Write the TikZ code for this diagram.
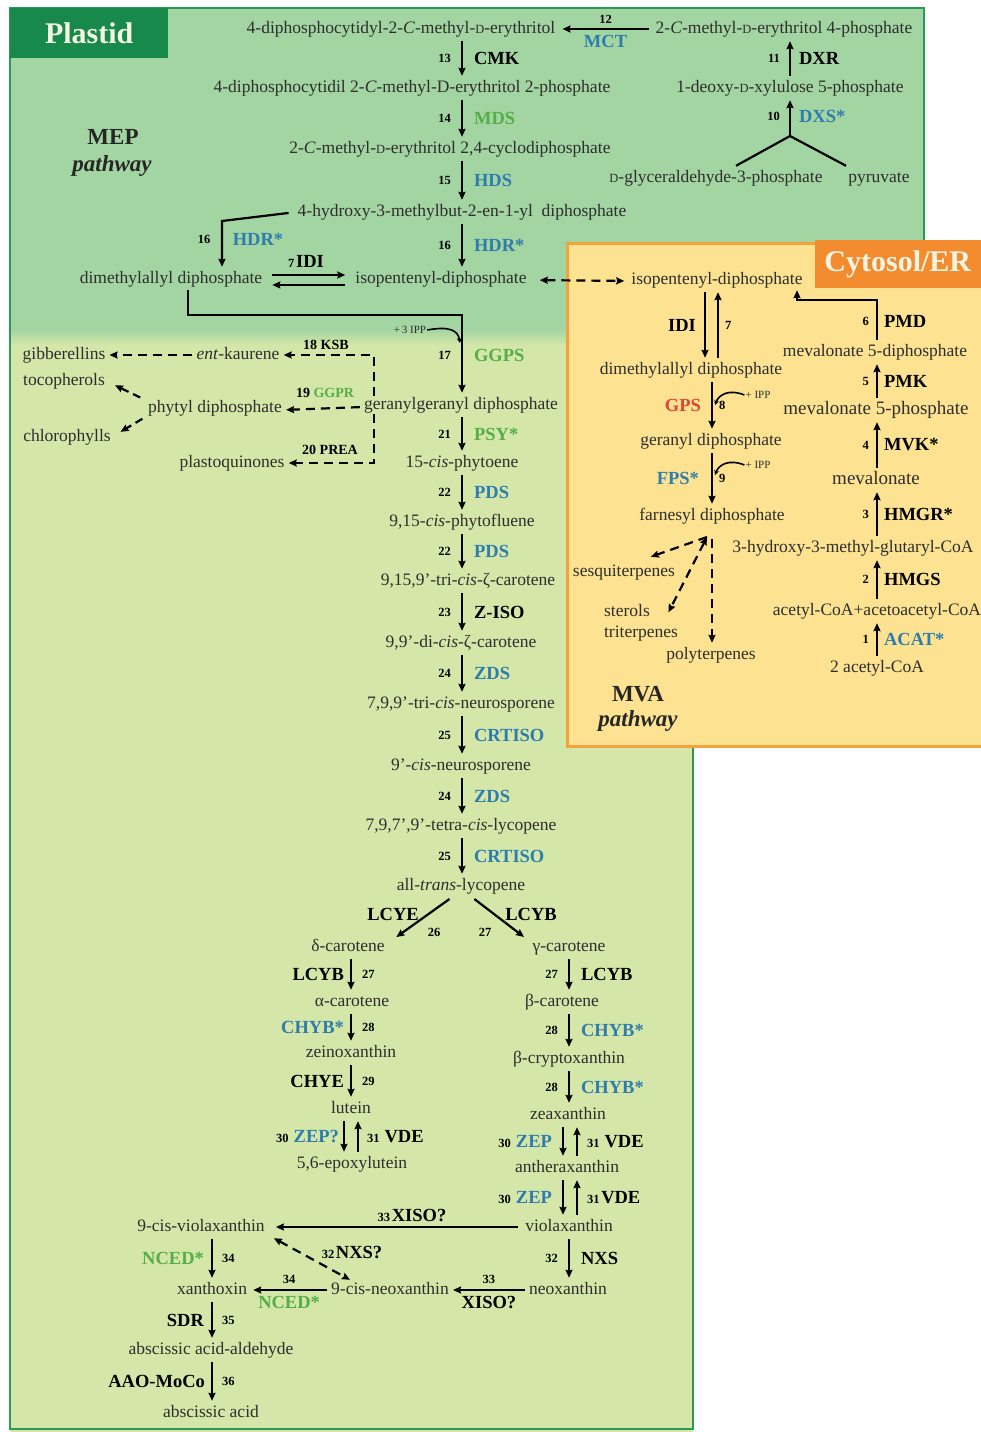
\documentclass[tikz,border=0pt]{standalone}
\usepackage{fontspec}
\setmainfont{Liberation Serif}
\usetikzlibrary{arrows.meta,calc}
\definecolor{upg}{HTML}{A3D5A2}
\definecolor{lowg}{HTML}{D4E7A8}
\definecolor{bordg}{HTML}{2A9A5B}
\definecolor{plab}{HTML}{17894B}
\definecolor{cytf}{HTML}{FDE391}
\definecolor{cytb}{HTML}{F3A33C}
\definecolor{clab}{HTML}{F28C2E}
\definecolor{ebl}{HTML}{2F7DAE}
\definecolor{egr}{HTML}{55AE48}
\definecolor{ere}{HTML}{DD4638}
\definecolor{tx}{HTML}{2E2E2E}
\definecolor{labt}{HTML}{F3F4E2}
\newcommand{\smD}{{\fontsize{12.5}{12.5}\selectfont D}}
\newcommand{\stp}[1]{{\bfseries\fontsize{12.5}{13}\selectfont #1}}
\newcommand{\stpb}[1]{{\bfseries\fontsize{14}{15}\selectfont #1}}
\newcommand{\enzK}[1]{{\bfseries\fontsize{18.5}{19}\selectfont #1}}
\newcommand{\enzB}[1]{{\bfseries\fontsize{18.5}{19}\selectfont\color{ebl}#1}}
\newcommand{\enzG}[1]{{\bfseries\fontsize{18.5}{19}\selectfont\color{egr}#1}}
\newcommand{\enzR}[1]{{\bfseries\fontsize{18.5}{19}\selectfont\color{ere}#1}}
\tikzset{
 cpd/.style={font=\fontsize{17.5}{18}\selectfont, text=tx, inner sep=1pt, text height=12pt, text depth=4pt},
 big/.style={cpd, font=\fontsize{19}{20}\selectfont},
 small/.style={inner sep=1pt, text=tx, font=\fontsize{11}{11}\selectfont},
 lb/.style={inner sep=1pt, text=black},
 tip/.style={-{Stealth[length=8pt,width=7pt,inset=1pt]}},
 rx/.style={draw=black, line width=2.2pt, tip, shorten >=3pt, shorten <=3pt},
 dsh/.style={rx, dash pattern=on 9pt off 6pt},
 plain/.style={draw=black, line width=2.2pt},
 lnum/.style={midway, left=9pt, lb},
 renz/.style={midway, right=10pt, lb},
 title/.style={font=\bfseries\fontsize{30}{30}\selectfont, text=labt, inner sep=0pt},
 pw/.style={font=\bfseries\fontsize{23}{24}\selectfont, text=black!85, inner sep=1pt},
}
\begin{document}
\begin{tikzpicture}[x=1pt,y=-1pt]
\useasboundingbox (0,0) rectangle (981,1432);
\clip (0,0) rectangle (981,1432);
\fill[white] (0,0) rectangle (981,1432);
% plastid
\fill[lowg] (10,8) -- (924,8) -- (924,620) -- (693,620) -- (693,1440) -- (10,1440) -- cycle;
\fill[upg] (10,8) rectangle (924,330);
\shade[top color=upg, bottom color=lowg] (10,329.5) rectangle (924,345);
\draw[bordg, line width=2.5pt] (10,8) -- (924,8) -- (924,620) -- (693,620) -- (693,1429) -- (10,1429) -- cycle;
\node[title, fill=plab, minimum width=158pt, minimum height=50pt, anchor=north west] (plastid) at (10,8) {Plastid};
% cytosol
\draw[cytb, fill=cytf, line width=3pt] (567,243) rectangle (995,746);
\node[title, fill=clab, minimum width=166pt, minimum height=48pt, anchor=north east] (cytlab) at (981,240) {Cytosol/ER};
% pathway labels
\node[pw] (mep1) at (113,137) {MEP};
\node[pw, font=\bfseries\itshape\fontsize{23}{24}\selectfont] (mep2) at (112,166) {pathway};
\node[pw] (mva1) at (638,694) {MVA};
\node[pw, font=\bfseries\itshape\fontsize{23}{24}\selectfont] (mva2) at (638,721) {pathway};

% axes
\coordinate (axM) at (462,0);
\coordinate (axD) at (790,0);
\coordinate (axL) at (351,0);
\coordinate (axLd) at (344,0);
\coordinate (axLu) at (358,0);
\coordinate (axR) at (569,0);
\coordinate (axRd) at (563,0);
\coordinate (axRu) at (577,0);
\coordinate (axA) at (212,0);
\coordinate (axC) at (712,0);
\coordinate (axCd) at (705,0);
\coordinate (axCu) at (718,0);
\coordinate (axV) at (877,0);

% ===== MEP compounds
\node[cpd] (mep) at (784,29) {2-\textit{C}-methyl-\smD-erythritol 4-phosphate};
\node[cpd] (cdpme) at (401,29) {4-diphosphocytidyl-2-\textit{C}-methyl-\smD-erythritol};
\node[cpd] (dxp) at (790,88) {1-deoxy-\smD-xylulose 5-phosphate};
\node[cpd] (g3p) at (716,178) {\smD-glyceraldehyde-3-phosphate};
\node[cpd] (pyr) at (879,178) {pyruvate};
\node[cpd] (cdpmep) at (412,88) {4-diphosphocytidil 2-\textit{C}-methyl-D-erythritol 2-phosphate};
\node[cpd] (mecpp) at (450,149) {2-\textit{C}-methyl-\smD-erythritol 2,4-cyclodiphosphate};
\node[cpd] (hmbpp) at (462,212) {4-hydroxy-3-methylbut-2-en-1-yl\ \ diphosphate};
\node[cpd] (dmapp) at (171,279) {dimethylallyl diphosphate};
\node[cpd] (ipp) at (441,279) {isopentenyl-diphosphate};

\draw[rx, shorten <=6pt, shorten >=6pt] (mep.west) -- (cdpme.east)
  node[midway, above=3pt, lb] (n12) {\stp{12}} node[midway, below=4pt, lb] (e12) {\enzB{MCT}};
\draw[rx] (dxp.north -| axD) -- (mep.south -| axD)
  node[midway, left=8pt, lb] (n11) {\stp{11}} node[midway, right=7pt, lb] (e11) {\enzK{DXR}};
\coordinate (fork) at (790,136);
\draw[plain] ([xshift=20pt,yshift=3pt]g3p.north) -- (fork) -- ([xshift=-33pt,yshift=3pt]pyr.north);
\draw[rx, shorten <=0pt] (fork) -- (dxp.south -| fork)
  node[midway, left=8pt, lb] (n10) {\stp{10}} node[midway, right=7pt, lb] (e10) {\enzB{DXS*}};
\draw[rx] (cdpme.south -| axM) -- (cdpmep.north -| axM)
  node[lnum] (n13) {\stp{13}} node[renz] (e13) {\enzK{CMK}};
\draw[rx] (cdpmep.south -| axM) -- (mecpp.north -| axM)
  node[lnum] (n14) {\stp{14}} node[renz] (e14) {\enzG{MDS}};
\draw[rx] (mecpp.south -| axM) -- (hmbpp.north -| axM)
  node[lnum] (n15) {\stp{15}} node[renz] (e15) {\enzB{HDS}};
\draw[rx] (hmbpp.south -| axM) -- (ipp.north -| axM)
  node[lnum] (n16) {\stp{16}} node[renz] (e16) {\enzB{HDR*}};
\coordinate (hb) at (222,221);
\draw[rx, shorten <=8pt] (hmbpp.west) -- (hb) -- (dmapp.north -| hb);
\node[lb] (n16b) at (204,239) {\stp{16}};
\node[lb] (e16b) at (258,239) {\enzB{HDR*}};
% IDI plastid
\draw[rx, shorten <=9pt, shorten >=9pt] ([yshift=4pt]dmapp.east) -- ([yshift=4pt]ipp.west);
\draw[rx, shorten <=9pt, shorten >=9pt] ([yshift=-6pt]ipp.west) -- ([yshift=-6pt]dmapp.east);
\node[lb] (idi) at (306,261) {\stp{7}\,\enzK{IDI}};
% IPP exchange
\node[cpd] (cipp) at (717,280) {isopentenyl-diphosphate};
\draw[dsh, {Stealth[length=8pt,width=7pt,inset=1pt]}-{Stealth[length=8pt,width=7pt,inset=1pt]}, shorten <=12pt, shorten >=6pt] ([yshift=-1pt]ipp.east) -- ([yshift=-1pt]cipp.west);

% ===== carotenoid main chain
\node[cpd] (ggpp) at (461,405) {geranylgeranyl diphosphate};
\coordinate (j1) at (188,315);
\coordinate (j2) at (462,315);
\draw[rx, shorten <=2pt] (dmapp.south -| j1) -- (j1) -- (j2) -- (ggpp.north -| j2)
  node[lnum] (n17) {\stp{17}} node[renz] (e17) {\enzG{GGPS}};
\node[small] (ipp3) at (410,330) {+\,3 IPP};
\draw[line width=1.6pt, -{Stealth[length=5pt,width=5pt]}] (ipp3.east) .. controls (449,326) and (458,330) .. (460,343);

\node[cpd] (entk) at (238,355) {\textit{ent}-kaurene};
\node[cpd] (gib) at (64,355) {gibberellins};
\node[cpd] (toc) at (64,381) {tocopherols};
\node[cpd] (phytyl) at (215,408) {phytyl diphosphate};
\node[cpd] (chl) at (67,437) {chlorophylls};
\node[cpd] (pq) at (232,463) {plastoquinones};
\coordinate (dv) at (374,0);
\draw[dsh, shorten <=0pt] (ggpp.north -| dv) -- (dv |- entk) -- (entk.east);
\draw[dsh, shorten <=0pt] (ggpp.south -| dv) -- (dv |- pq) -- (pq.east);
\draw[dsh] ([yshift=-2pt]ggpp.west) -- ([yshift=-2pt]phytyl.east);
\draw[dsh] (entk.west) -- (gib.east);
\draw[dsh, shorten >=10pt, dash pattern=on 8pt off 5pt] ([xshift=-4pt]phytyl.north west) -- (toc.east);
\draw[dsh, shorten >=10pt, dash pattern=on 8pt off 5pt] ([xshift=-2pt]phytyl.south west) -- (chl.east);
\node[lb] (l18) at (326,345) {\stpb{18 KSB}};
\node[lb] (l19) at (325,393) {\stpb{19 {\color{egr}GGPR}}};
\node[lb] (l20) at (330,450) {\stpb{20 PREA}};

\node[cpd] (phytoene) at (462,463) {15-\textit{cis}-phytoene};
\node[cpd] (phytofl) at (462,522) {9,15-\textit{cis}-phytofluene};
\node[cpd] (zcar) at (468,581) {9,15,9'-tri-\textit{cis}-ζ-carotene};
\node[cpd] (dizcar) at (461,643) {9,9'-di-\textit{cis}-ζ-carotene};
\node[cpd] (neuro) at (461,704) {7,9,9'-tri-\textit{cis}-neurosporene};
\node[cpd] (neuro9) at (461,766) {9'-\textit{cis}-neurosporene};
\node[cpd] (prolyc) at (461,826) {7,9,7',9'-tetra-\textit{cis}-lycopene};
\node[cpd] (lyc) at (461,886) {all-\textit{trans}-lycopene};

\draw[rx] (ggpp.south -| axM) -- (phytoene.north -| axM)
  node[lnum] (n21) {\stp{21}} node[renz] (e21) {\enzG{PSY*}};
\draw[rx] (phytoene.south -| axM) -- (phytofl.north -| axM)
  node[lnum] (n22a) {\stp{22}} node[renz] (e22a) {\enzB{PDS}};
\draw[rx] (phytofl.south -| axM) -- (zcar.north -| axM)
  node[lnum] (n22b) {\stp{22}} node[renz] (e22b) {\enzB{PDS}};
\draw[rx] (zcar.south -| axM) -- (dizcar.north -| axM)
  node[lnum] (n23) {\stp{23}} node[renz] (e23) {\enzK{Z-ISO}};
\draw[rx] (dizcar.south -| axM) -- (neuro.north -| axM)
  node[lnum] (n24a) {\stp{24}} node[renz] (e24a) {\enzB{ZDS}};
\draw[rx] (neuro.south -| axM) -- (neuro9.north -| axM)
  node[lnum] (n25a) {\stp{25}} node[renz] (e25a) {\enzB{CRTISO}};
\draw[rx] (neuro9.south -| axM) -- (prolyc.north -| axM)
  node[lnum] (n24b) {\stp{24}} node[renz] (e24b) {\enzB{ZDS}};
\draw[rx] (prolyc.south -| axM) -- (lyc.north -| axM)
  node[lnum] (n25b) {\stp{25}} node[renz] (e25b) {\enzB{CRTISO}};

% fork
\node[cpd] (dcar) at (348,947) {δ-carotene};
\node[cpd] (gcar) at (569,947) {γ-carotene};
\draw[rx] ([xshift=-9pt,yshift=-2pt]lyc.south) -- ([xshift=8pt,yshift=-1pt]dcar.north east);
\draw[rx] ([xshift=11pt,yshift=-2pt]lyc.south) -- ([xshift=-5pt,yshift=-1pt]gcar.north west);
\node[lb] (e26) at (393,914) {\enzK{LCYE}};
\node[lb] (n26) at (434,932) {\stp{26}};
\node[lb] (e27) at (531,914) {\enzK{LCYB}};
\node[lb] (n27) at (485,932) {\stp{27}};

% left branch
\node[cpd] (acar) at (352,1002) {α-carotene};
\node[cpd] (zein) at (351,1053) {zeinoxanthin};
\node[cpd] (lut) at (351,1109) {lutein};
\node[cpd] (epl) at (352,1164) {5,6-epoxylutein};
\draw[rx] (dcar.south -| axL) -- (acar.north -| axL)
  node[midway, left=5pt, lb] (e27l) {\enzK{LCYB}} node[midway, right=9pt, lb] (n27l) {\stp{27}};
\draw[rx] (acar.south -| axL) -- (zein.north -| axL)
  node[midway, left=5pt, lb] (e28l) {\enzB{CHYB*}} node[midway, right=9pt, lb] (n28l) {\stp{28}};
\draw[rx] (zein.south -| axL) -- (lut.north -| axL)
  node[midway, left=5pt, lb] (e29) {\enzK{CHYE}} node[midway, right=9pt, lb] (n29) {\stp{29}};
\draw[rx] (lut.south -| axLd) -- (epl.north -| axLd)
  node[midway, left=3pt, lb] (e30l) {\stp{30}\ \ \enzB{ZEP?}};
\draw[rx] (epl.north -| axLu) -- (lut.south -| axLu)
  node[midway, right=7pt, lb] (e31l) {\stp{31}\ \ \enzK{VDE}};

% right branch
\node[cpd] (bcar) at (562,1002) {β-carotene};
\node[cpd] (bcry) at (569,1059) {β-cryptoxanthin};
\node[cpd] (zea) at (568,1115) {zeaxanthin};
\node[cpd] (anth) at (567,1168) {antheraxanthin};
\node[cpd] (viol) at (569,1227) {violaxanthin};
\node[cpd] (neox) at (568,1290) {neoxanthin};
\draw[rx] (gcar.south -| axR) -- (bcar.north -| axR)
  node[lnum] (n27r) {\stp{27}} node[renz] (e27r) {\enzK{LCYB}};
\draw[rx] (bcar.south -| axR) -- (bcry.north -| axR)
  node[lnum] (n28r) {\stp{28}} node[renz] (e28r) {\enzB{CHYB*}};
\draw[rx] (bcry.south -| axR) -- (zea.north -| axR)
  node[lnum] (n28s) {\stp{28}} node[renz] (e28s) {\enzB{CHYB*}};
\draw[rx] (zea.south -| axRd) -- (anth.north -| axRd)
  node[midway, left=9pt, lb] (e30r) {\stp{30}\ \ \enzB{ZEP}};
\draw[rx] (anth.north -| axRu) -- (zea.south -| axRu)
  node[midway, right=8pt, lb] (e31r) {\stp{31}\ \ \enzK{VDE}};
\draw[rx] (anth.south -| axRd) -- (viol.north -| axRd)
  node[midway, left=9pt, lb] (e30s) {\stp{30}\ \ \enzB{ZEP}};
\draw[rx] (viol.north -| axRu) -- (anth.south -| axRu)
  node[midway, right=8pt, lb] (e31s) {\stp{31}\,\enzK{VDE}};
\draw[rx] (viol.south -| axR) -- (neox.north -| axR)
  node[lnum] (n32) {\stp{32}} node[renz] (e32) {\enzK{NXS}};

% ABA part
\node[cpd] (cviol) at (201,1227) {9-cis-violaxanthin};
\node[cpd] (cneox) at (390,1290) {9-cis-neoxanthin};
\node[cpd] (xan) at (212,1290) {xanthoxin};
\node[cpd] (abald) at (211,1350) {abscissic acid-aldehyde};
\node[cpd] (aba) at (211,1413) {abscissic acid};
\draw[rx, shorten <=6pt, shorten >=10pt] (viol.west) -- (cviol.east);
\node[lb] (l33a) at (412,1215) {\stp{33}\,\enzK{XISO?}};
\draw[rx] (neox.west) -- (cneox.east)
  node[midway, above=4pt, lb] (n33) {\stp{33}} node[midway, below=4pt, lb] (e33) {\enzK{XISO?}};
\draw[rx, shorten >=5pt] (cneox.west) -- (xan.east)
  node[midway, above=4pt, lb] (n34h) {\stp{34}} node[midway, below=4pt, lb] (e34h) {\enzG{NCED*}};
\draw[dsh, {Stealth[length=8pt,width=7pt,inset=1pt]}-{Stealth[length=8pt,width=7pt,inset=1pt]}, shorten <=0pt, shorten >=0pt] ([xshift=8pt,yshift=-2pt]cviol.south east) -- ([xshift=20pt,yshift=1pt]cneox.north west);
\node[lb] (l32) at (352,1252) {\stp{32}\,\enzK{NXS?}};
\draw[rx] (cviol.south -| axA) -- (xan.north -| axA)
  node[midway, left=6pt, lb] (e34v) {\enzG{NCED*}} node[midway, right=8pt, lb] (n34v) {\stp{34}};
\draw[rx] (xan.south -| axA) -- (abald.north -| axA)
  node[midway, left=6pt, lb] (e35) {\enzK{SDR}} node[midway, right=8pt, lb] (n35) {\stp{35}};
\draw[rx] (abald.south -| axA) -- (aba.north -| axA)
  node[midway, left=5pt, lb] (e36) {\enzK{AAO-MoCo}} node[midway, right=8pt, lb] (n36) {\stp{36}};

% ===== cytosol
\node[cpd] (cdmapp) at (691,370) {dimethylallyl diphosphate};
\node[cpd] (gpp) at (711,441) {geranyl diphosphate};
\node[cpd] (fpp) at (712,516) {farnesyl diphosphate};
\node[cpd] (sesq) at (624,572) {sesquiterpenes};
\node[cpd] (ster) at (627,612) {sterols};
\node[cpd] (trit) at (641,633) {triterpenes};
\node[cpd] (polyt) at (711,655) {polyterpenes};
\draw[rx] (cipp.south -| axCd) -- (cdmapp.north -| axCd)
  node[midway, left=7pt, lb] (eidi) {\enzK{IDI}};
\draw[rx] (cdmapp.north -| axCu) -- (cipp.south -| axCu)
  node[midway, right=5pt, lb] (n7c) {\stp{7}};
\draw[rx] (cdmapp.south -| axC) -- (gpp.north -| axC)
  node[midway, left=9pt, lb] (e8) {\enzR{GPS}} node[midway, right=5pt, lb] (n8) {\stp{8}};
\draw[rx] (gpp.south -| axC) -- (fpp.north -| axC)
  node[midway, left=11pt, lb] (e9) {\enzB{FPS*}} node[midway, right=5pt, lb] (n9) {\stp{9}};
\node[small] (ippa) at (758,395) {+ IPP};
\node[small] (ippb) at (758,465) {+ IPP};
\draw[line width=1.6pt, -{Stealth[length=5pt,width=5pt]}] (ippa.west) .. controls (730,389) and (719,394) .. (715,405);
\draw[line width=1.6pt, -{Stealth[length=5pt,width=5pt]}] (ippb.west) .. controls (730,459) and (719,464) .. (715,475);
\coordinate (fs) at (707,537);
\draw[dsh, shorten <=0pt] (fs) -- ([xshift=24pt,yshift=5pt]sesq.north);
\draw[dsh, {Stealth[length=8pt,width=7pt,inset=1pt]}-{Stealth[length=8pt,width=7pt,inset=1pt]}, shorten <=0pt] (fs) -- ([xshift=16pt,yshift=-3pt]ster.east);
\draw[dsh, shorten <=14pt] (fpp.south -| axC) -- (polyt.north -| axC);

\node[cpd] (mvpp) at (875,352) {mevalonate 5-diphosphate};
\node[big] (mvp) at (876,410) {mevalonate 5-phosphate};
\node[big] (mva) at (876,480) {mevalonate};
\node[cpd] (hmg) at (853,548) {3-hydroxy-3-methyl-glutaryl-CoA};
\node[cpd] (accoa) at (877,611) {acetyl-CoA+acetoacetyl-CoA};
\node[cpd] (acoa) at (877,668) {2 acetyl-CoA};
\coordinate (p1) at (877,300);
\coordinate (p2) at (797,300);
\draw[rx, shorten >=1pt] (mvpp.north -| axV) -- node[left=6pt, lb] (n6) {\stp{6}} node[right=5pt, lb] (e6) {\enzK{PMD}} (p1) -- (p2) -- (cipp.south -| p2);
\draw[rx] (mvp.north -| axV) -- (mvpp.south -| axV)
  node[midway, left=6pt, lb] (n5) {\stp{5}} node[midway, right=5pt, lb] (e5) {\enzK{PMK}};
\draw[rx] (mva.north -| axV) -- (mvp.south -| axV)
  node[midway, left=6pt, lb] (n4) {\stp{4}} node[midway, right=5pt, lb] (e4) {\enzK{MVK*}};
\draw[rx] (hmg.north -| axV) -- (mva.south -| axV)
  node[midway, left=6pt, lb] (n3) {\stp{3}} node[midway, right=5pt, lb] (e3) {\enzK{HMGR*}};
\draw[rx] (accoa.north -| axV) -- (hmg.south -| axV)
  node[midway, left=6pt, lb] (n2) {\stp{2}} node[midway, right=5pt, lb] (e2) {\enzK{HMGS}};
\draw[rx] (acoa.north -| axV) -- (accoa.south -| axV)
  node[midway, left=6pt, lb] (n1) {\stp{1}} node[midway, right=5pt, lb] (e1) {\enzB{ACAT*}};
\end{tikzpicture}
\end{document}
